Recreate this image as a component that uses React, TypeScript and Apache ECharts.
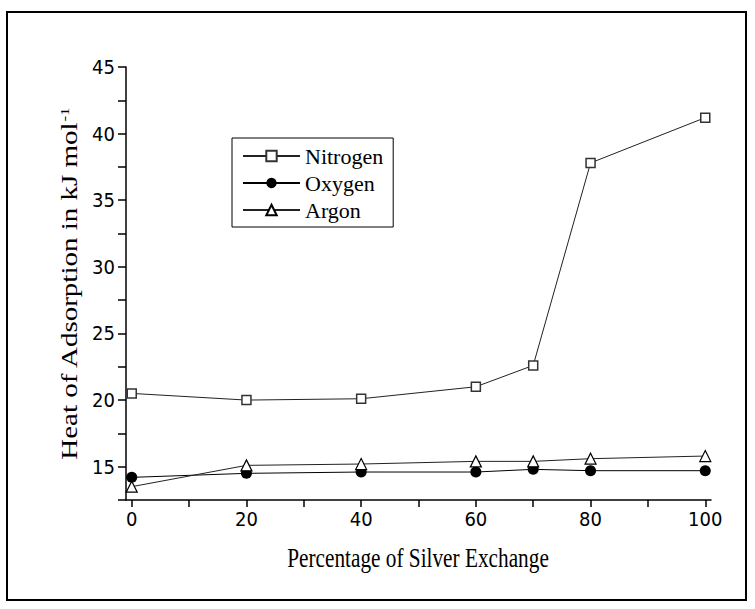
import React, { useEffect, useRef } from "react";
import * as echarts from "echarts";

const xValues = [0, 20, 40, 60, 70, 80, 100];
const nitrogen = [20.5, 20.0, 20.1, 21.0, 22.6, 37.8, 41.2];
const oxygen = [14.2, 14.5, 14.6, 14.6, 14.8, 14.7, 14.7];
const argon = [13.5, 15.1, 15.2, 15.4, 15.4, 15.6, 15.8];
const xTickLabels = [0, 20, 40, 60, 80, 100];
const xTicks = [0, 10, 20, 30, 40, 50, 60, 70, 80, 90, 100];
const xTitle = "Percentage of Silver Exchange";
const yTitle = "Heat of Adsorption in kJ mol";
const yTitleSup = "-1";

const pair = (ys: number[]) => xValues.map((x, i) => [x, ys[i]]);

export default function App() {
  const ref = useRef<HTMLDivElement>(null);
  useEffect(() => {
    if (!ref.current) return;
    const chart = echarts.init(ref.current, undefined, { renderer: "svg" });
    const serif = "'Liberation Serif', 'Times New Roman', serif";
    const narrow = "'Liberation Sans Narrow', 'Arial Narrow', 'DejaVu Sans Condensed', sans-serif";
    const squeeze = 0.76;
    chart.setOption({
      animation: false,
      backgroundColor: "#fff",
      grid: { left: 126, top: 67, right: 44, bottom: 109, containLabel: false },
      graphic: [
        {
          type: "rect",
          shape: { x: 7, y: 12, width: 739, height: 588 },
          style: { fill: "none", stroke: "#000", lineWidth: 2 },
          silent: true,
        },
        {
          type: "text",
          x: 418,
          y: 557,
          scaleX: squeeze,
          scaleY: 1,
          style: {
            text: xTitle,
            fontFamily: serif,
            fontSize: 28,
            fill: "#000",
            align: "center",
            verticalAlign: "middle",
          },
          silent: true,
        },
        {
          type: "text",
          x: 70,
          y: 284,
          rotation: Math.PI / 2,
          scaleX: 1,
          scaleY: squeeze,
          style: {
            text: yTitle + "{sup|" + yTitleSup + "}",
            fontFamily: serif,
            fontSize: 29,
            fill: "#000",
            align: "center",
            verticalAlign: "middle",
            rich: {
              sup: { fontFamily: serif, fontSize: 17, fill: "#000", verticalAlign: "top", padding: [0, 0, 14, 0] },
            },
          },
          silent: true,
        },
      ],
      legend: {
        orient: "vertical",
        left: 232,
        top: 138,
        padding: [7, 10, 6, 10],
        itemWidth: 57,
        itemHeight: 13,
        itemGap: 5,
        borderColor: "#000",
        borderWidth: 1,
        borderRadius: 0,
        backgroundColor: "#fff",
        textStyle: { fontFamily: serif, fontSize: 22, color: "#000" },
        data: ["Nitrogen", "Oxygen", "Argon"],
      },
      xAxis: {
        type: "value",
        min: -1,
        max: 101,
        axisLine: { onZero: false, lineStyle: { color: "#000", width: 1.5 } },
        axisTick: {
          customValues: xTicks,
          length: 7,
          lineStyle: { color: "#000", width: 1.5 },
        },
        axisLabel: {
          customValues: xTickLabels,
          fontFamily: narrow,
          fontSize: 20,
          color: "#000",
          margin: 9,
        },
        splitLine: { show: false },
      },
      yAxis: {
        type: "value",
        min: 12.5,
        max: 45,
        interval: 2.5,
        axisLine: { show: true, onZero: false, lineStyle: { color: "#000", width: 1.5 } },
        axisTick: { show: true, length: 8, lineStyle: { color: "#000", width: 1.5 } },
        axisLabel: {
          fontFamily: narrow,
          fontSize: 20,
          color: "#000",
          margin: 11,
          formatter: (v: number) => (v % 5 === 0 ? String(v) : ""),
        },
        splitLine: { show: false },
      },
      series: [
        {
          name: "Nitrogen",
          type: "line",
          data: pair(nitrogen),
          symbol: "rect",
          symbolSize: 9,
          lineStyle: { color: "#222", width: 1 },
          itemStyle: { color: "#fff", borderColor: "#333", borderWidth: 1.5 },
          z: 3,
        },
        {
          name: "Oxygen",
          type: "line",
          data: pair(oxygen),
          symbol: "circle",
          symbolSize: 11,
          lineStyle: { color: "#000", width: 1 },
          itemStyle: { color: "#000", borderColor: "#000", borderWidth: 0 },
          z: 4,
        },
        {
          name: "Argon",
          type: "line",
          data: pair(argon),
          symbol: "triangle",
          symbolSize: 11,
          lineStyle: { color: "#222", width: 1 },
          itemStyle: { color: "#fff", borderColor: "#000", borderWidth: 1.2 },
          z: 5,
        },
      ],
    });
    return () => chart.dispose();
  }, []);
  return (
    <div
      ref={ref}
      style={{ position: "fixed", left: 0, top: 0, width: 755, height: 609, background: "#fff" }}
    />
  );
}
